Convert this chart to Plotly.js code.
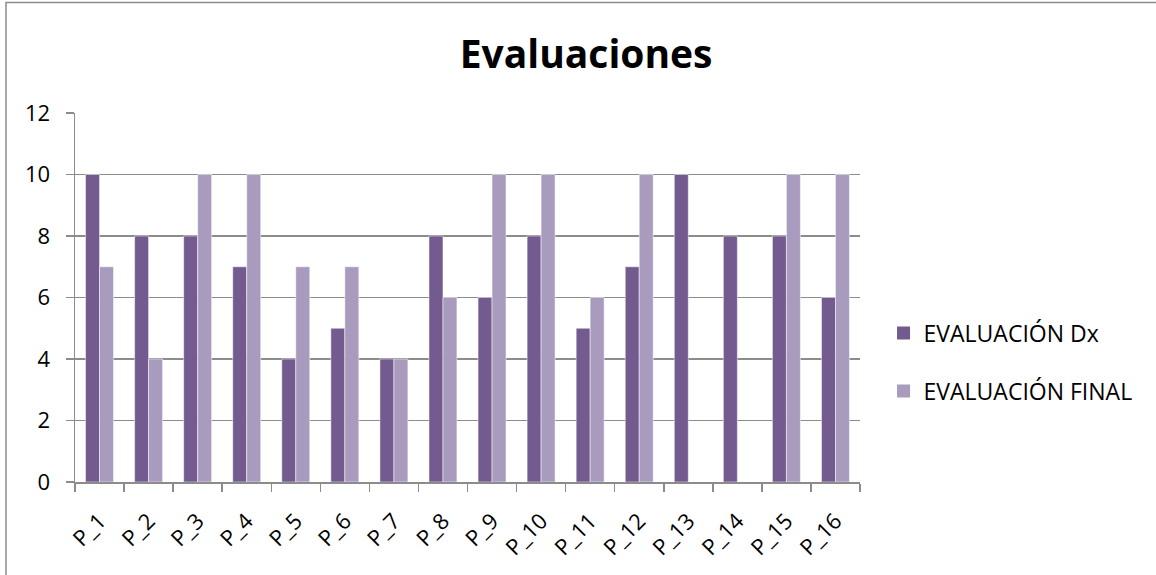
<!DOCTYPE html>
<html><head><meta charset="utf-8">
<script src="https://cdn.plot.ly/plotly-3.0.1.min.js"></script>
<style>html,body{margin:0;padding:0;background:#fff}#chart{width:1156px;height:575px}</style>
</head><body><div id="chart"></div>
<script>
const categories = ["P_1","P_2","P_3","P_4","P_5","P_6","P_7","P_8","P_9","P_10","P_11","P_12","P_13","P_14","P_15","P_16"];
const evalDx    = [10, 8, 8, 7, 4, 5, 4, 8, 6, 8, 5, 7, 10, 8, 8, 6];
const evalFinal = [7, 4, 10, 10, 7, 7, 4, 6, 10, 10, 6, 10, 0, 0, 10, 10];
const seriesNames = ["EVALUACIÓN Dx", "EVALUACIÓN FINAL"];
const seriesColors = ["#735A8F", "#A99BBE"];
const yTicks = [0, 2, 4, 6, 8, 10, 12];

const font = "'Open Sans', sans-serif";
const traces = [
  {type:"bar", name:seriesNames[0], x:categories, y:evalDx, showlegend:false, marker:{color:seriesColors[0], line:{color:"#ffffff", width:0.5}}},
  {type:"bar", name:seriesNames[1], x:categories, y:evalFinal, showlegend:false, marker:{color:seriesColors[1], line:{color:"#ffffff", width:0.5}}},
  {type:"scatter", mode:"markers", name:seriesNames[0], x:[null], y:[null], legendgroup:"a", marker:{symbol:"square", size:13, color:seriesColors[0]}},
  {type:"scatter", mode:"markers", name:seriesNames[1], x:[null], y:[null], legendgroup:"b", marker:{symbol:"square", size:13, color:seriesColors[1]}}
];
const layout = {
  width:1156, height:575,
  margin:{l:75, r:296, t:113, b:93},
  paper_bgcolor:"#fff", plot_bgcolor:"#fff",
  font:{family:font, size:22, color:"#000"},
  title:{text:"<b>Evaluaciones</b>", font:{family:font, size:39, color:"#000"}, x:0.507, xanchor:"center", y:0.905, yanchor:"middle"},
  barmode:"group", bargap:0.43, bargroupgap:0,
  showlegend:true,
  legend:{x:1.03, y:0.325, yanchor:"middle", xanchor:"left", font:{family:font, size:23}, traceorder:"grouped", tracegroupgap:25, itemsizing:"trace"},
  xaxis:{type:"category", tickangle:-45, showline:true, linecolor:"#8c8c8c", linewidth:1.5, ticks:"outside", tickson:"boundaries", ticklen:8, tickcolor:"#8c8c8c", tickwidth:1.5, showgrid:false, tickfont:{size:22}, ticklabelstandoff:16},
  yaxis:{range:[0,12], tickvals:yTicks, showline:true, linecolor:"#8c8c8c", linewidth:1.5, ticks:"outside", ticklen:8, tickcolor:"#8c8c8c", tickwidth:1.5, showgrid:true, gridcolor:"#8c8c8c", gridwidth:1.5, zeroline:false, tickfont:{size:22}, ticklabelstandoff:11},
  shapes:[{type:"rect", xref:"paper", yref:"paper", x0:-0.0879, x1:1.45, y0:-0.4, y1:1.2995, line:{color:"#8c8c8c", width:1.5}, fillcolor:"rgba(0,0,0,0)"}]
};
Plotly.newPlot("chart", traces, layout, {displayModeBar:false, staticPlot:true});
</script></body></html>
